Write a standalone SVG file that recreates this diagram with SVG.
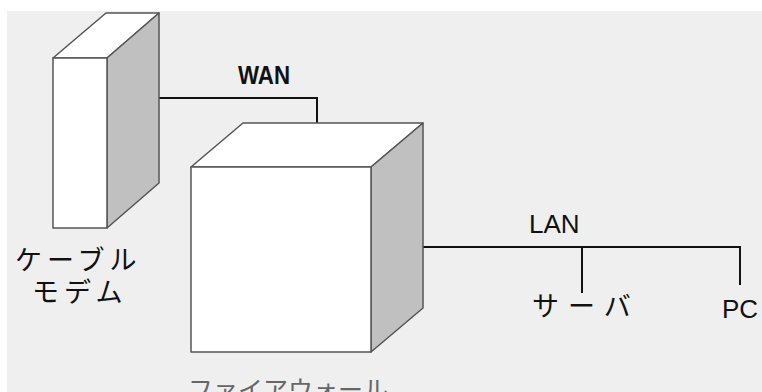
<svg xmlns="http://www.w3.org/2000/svg" width="762" height="392" viewBox="0 0 762 392">
<style>
.face{fill:#ffffff;stroke:#555555;stroke-width:1.5;stroke-linejoin:round}
.side{fill:#c0c0c0;stroke:#555555;stroke-width:1.5;stroke-linejoin:round}
.wire{fill:none;stroke:#111111;stroke-width:2}
.lat{font-family:"Liberation Sans",Arial,sans-serif;font-size:26px;fill:#111111}
.jp{font-family:"Noto Sans CJK JP",sans-serif;font-size:27px;fill:#111111;letter-spacing:5px}
</style>
<rect x="0" y="0" width="762" height="392" fill="#ffffff"/>
<rect x="7" y="11" width="755" height="381" fill="#efefef"/>
<g id="connectors">
<polyline class="wire" points="159,98 317,98 317,123"/>
<polyline class="wire" points="423,247 740,247 740,285"/>
<line class="wire" x1="582" y1="247" x2="582" y2="293"/>
</g>
<g id="modem">
<polygon class="face" points="53,58 107,58 159,13 106,13"/>
<polygon class="side" points="107,58 159,13 159,183 107,228"/>
<rect class="face" x="53" y="58" width="54" height="170"/>
<text class="jp" x="15" y="270">ケーブル</text>
<text class="jp" x="32" y="302">モデム</text>
</g>
<g id="firewall">
<polygon class="face" points="191,167 371,167 423,123 243,123"/>
<polygon class="side" points="371,167 423,123 423,308 371,352"/>
<rect class="face" x="191" y="167" width="180" height="185"/>
<text x="188" y="399" style="font-family:'Noto Sans CJK JP',sans-serif;font-size:25px;fill:#666666">ファイアウォール</text>
</g>
<g id="wan-label"><text class="lat" x="238" y="84" font-weight="bold" font-size="23" textLength="52" lengthAdjust="spacingAndGlyphs">WAN</text></g>
<g id="lan-label"><text class="lat" x="529" y="233">LAN</text></g>
<g id="server"><text class="jp" x="532" y="316" style="letter-spacing:9px">サーバ</text></g>
<g id="pc"><text class="lat" x="722" y="318">PC</text></g>
</svg>
